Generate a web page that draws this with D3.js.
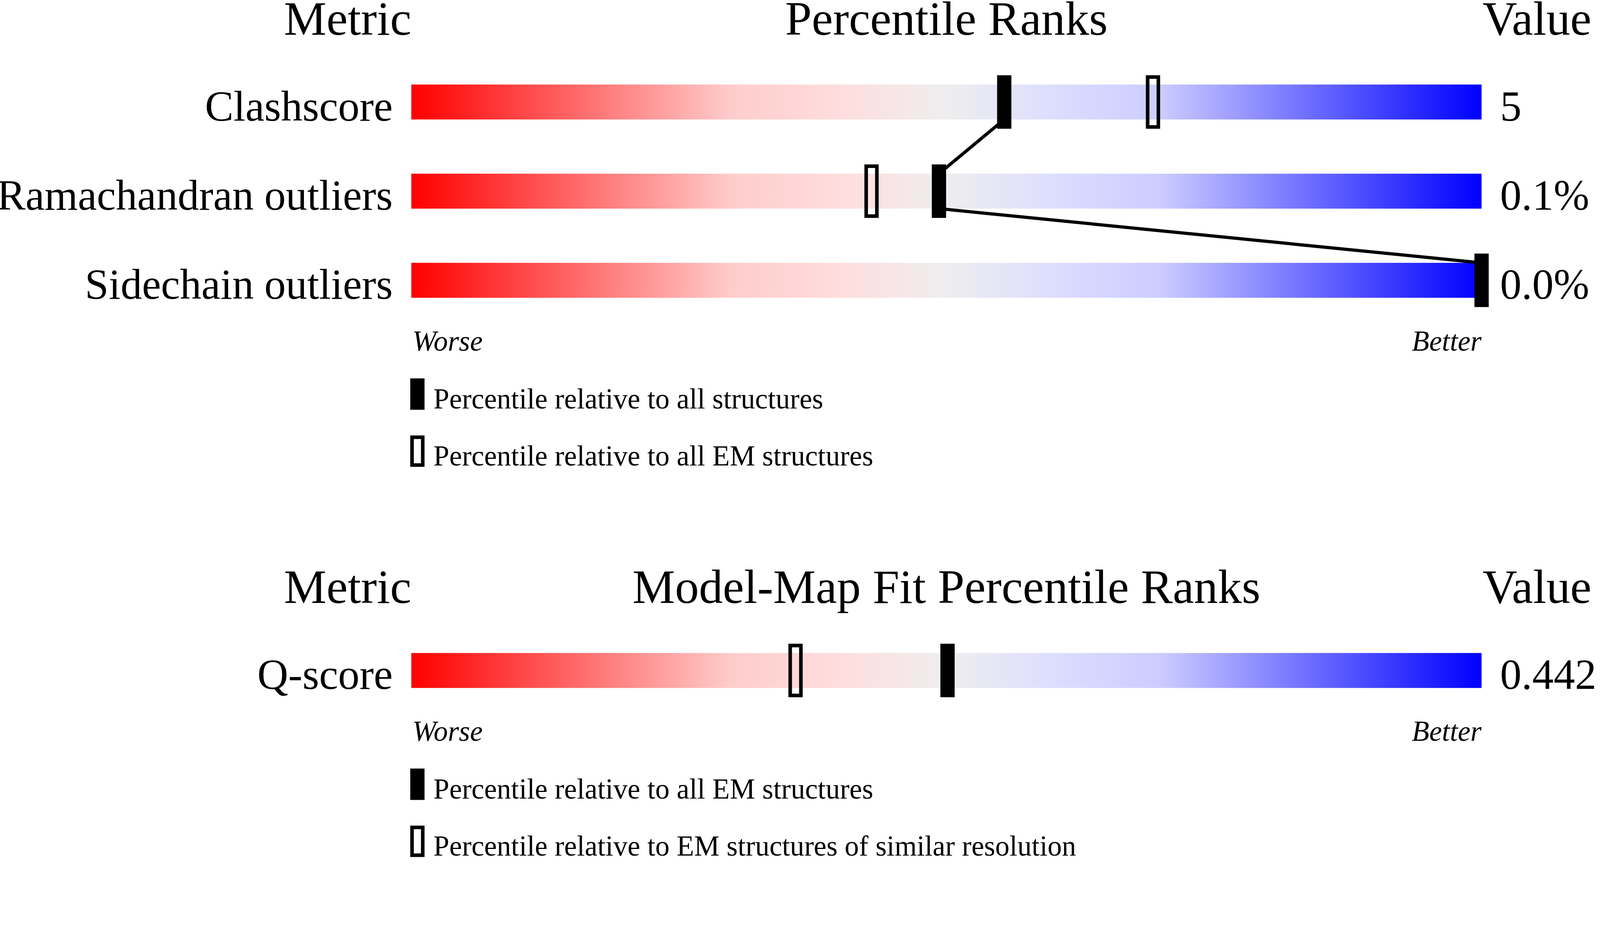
<!DOCTYPE html>
<html>
<head>
<meta charset="utf-8">
<script src="https://cdn.jsdelivr.net/npm/d3@7"></script>
<style>
html,body{margin:0;padding:0;background:#fff;overflow:hidden;}
#chart{display:block;width:100vw;height:100vh;}
text{font-family:"Liberation Serif","Times New Roman","DejaVu Serif",serif;fill:#000;}
</style>
</head>
<body>
<svg id="chart" viewBox="0 0 4485 2402" preserveAspectRatio="xMinYMin meet"></svg>
<script>
var metrics = ["Clashscore","Ramachandran outliers","Sidechain outliers"];
var metricValues = ["5","0.1%","0.0%"];
var pctAll = [55.4,49.3,100];
var pctEM = [69.3,43.0,null];

var fitMetrics = ["Q-score"];
var fitValues = ["0.442"];
var fitPctEM = [50.1];
var fitPctRes = [35.9];

var legend1 = ["Percentile relative to all structures","Percentile relative to all EM structures"];
var legend2 = ["Percentile relative to all EM structures","Percentile relative to EM structures of similar resolution"];

var gradStops = [0,0.3,0.4,0.5,0.6,0.7,1];
var gradColors = ["#ff0000","#ffcccc","#ffdddd","#eeeeee","#ddddff","#ccccff","#0000ff"];

window.addEventListener("load",makeChart);

function makeChart(){
	var svg = d3.select("#chart");
	svg.append("rect").attr("width",4485).attr("height",2402).attr("fill","#fff");

	var grad = svg.append("defs").append("linearGradient").attr("id","rb")
	.attr("x1","0%").attr("x2","100%").attr("y1","0%").attr("y2","0%");
	grad.selectAll("stop").data(gradStops).enter()
	.append("stop").attr("offset",d=>d).attr("stop-color",(d,i)=>gradColors[i]);

	var x = d3.scaleLinear().domain([0,100]).range([1153,4153]);

	makeSection(svg,x,{top:237,title:"Percentile Ranks",names:metrics,vals:metricValues,
		solid:pctAll,hollow:pctEM,legend:legend1,link:true});
	makeSection(svg,x,{top:1831,title:"Model-Map Fit Percentile Ranks",names:fitMetrics,vals:fitValues,
		solid:fitPctEM,hollow:fitPctRes,legend:legend2,link:false});
}

function makeSection(svg,x,o){
	var barH = 98, step = 250, mW = 40, mH = 150, sw = 10;
	var y = d3.scaleLinear().domain([0,1]).range([o.top,o.top+step]);
	var g = svg.append("g");

	// headers
	var hy = o.top-140;
	g.append("text").attr("x",x(0)).attr("y",hy).attr("text-anchor","end")
	.attr("font-size",134).text("Metric");
	g.append("text").attr("x",x(50)).attr("y",hy).attr("text-anchor","middle")
	.attr("font-size",134).text(o.title);
	g.append("text").attr("x",x(100)+3).attr("y",hy)
	.attr("font-size",134).text("Value");

	// bars
	g.selectAll("rect.bar").data(o.names).enter()
	.append("rect").attr("class","bar")
	.attr("x",x(0)).attr("width",x(100)-x(0))
	.attr("y",(d,i)=>y(i)).attr("height",barH)
	.attr("fill","url(#rb)");

	g.selectAll("text.lab").data(o.names).enter()
	.append("text").attr("class","lab")
	.attr("x",x(0)-52).attr("y",(d,i)=>y(i)+101)
	.attr("text-anchor","end").attr("font-size",120).text(d=>d);

	g.selectAll("text.val").data(o.vals).enter()
	.append("text").attr("class","val")
	.attr("x",x(100)+52).attr("y",(d,i)=>y(i)+101)
	.attr("font-size",120).text(d=>d);

	// links between solid markers
	if(o.link){
		var pairs = d3.pairs(o.solid.map((p,i)=>({p:p,i:i})));
		g.selectAll("line").data(pairs).enter()
		.append("line").attr("stroke","#000").attr("stroke-width",9)
		.attr("x1",d=>x(d[0].p)).attr("y1",d=>y(d[0].i)+barH)
		.attr("x2",d=>x(d[1].p)).attr("y2",d=>y(d[1].i));
	}

	var off = (mH-barH)/2;
	g.selectAll("rect.hol").data(o.hollow.map((p,i)=>({p:p,i:i})).filter(d=>d.p!=null)).enter()
	.append("rect").attr("class","hol")
	.attr("x",d=>x(d.p)-mW/2+sw/2).attr("y",d=>y(d.i)-off+sw/2)
	.attr("width",mW-sw).attr("height",mH-sw)
	.attr("fill","none").attr("stroke","#000").attr("stroke-width",sw);

	g.selectAll("rect.sol").data(o.solid.map((p,i)=>({p:p,i:i}))).enter()
	.append("rect").attr("class","sol")
	.attr("x",d=>x(d.p)-mW/2).attr("y",d=>y(d.i)-off)
	.attr("width",mW).attr("height",mH).attr("fill","#000");

	// worse / better
	var last = y(o.names.length-1)+barH;
	var wy = last+148;
	g.append("text").attr("x",x(0)+3).attr("y",wy).attr("font-size",80)
	.attr("font-style","italic").text("Worse");
	g.append("text").attr("x",x(100)).attr("y",wy).attr("font-size",80)
	.attr("text-anchor","end").attr("font-style","italic").text("Better");

	// legend
	var ly = [wy+78,wy+238];
	g.append("rect").attr("x",x(0)-3).attr("y",ly[0]).attr("width",mW).attr("height",88).attr("fill","#000");
	g.append("rect").attr("x",x(0)-3+sw/2).attr("y",ly[1]+sw/2).attr("width",mW-sw).attr("height",88-sw)
	.attr("fill","#fff").attr("stroke","#000").attr("stroke-width",sw);
	g.selectAll("text.leg").data(o.legend).enter()
	.append("text").attr("class","leg")
	.attr("x",x(0)+62).attr("y",(d,i)=>ly[i]+84)
	.attr("font-size",80).text(d=>d);
}
</script>
</body>
</html>
